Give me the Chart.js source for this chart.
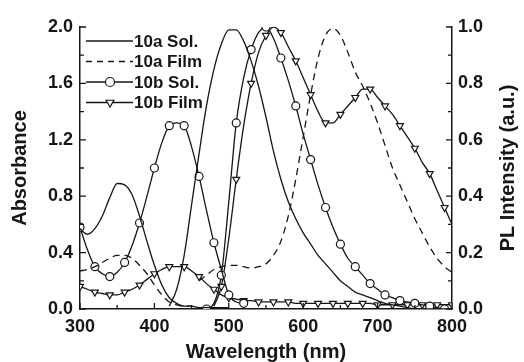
<!DOCTYPE html>
<html>
<head>
<meta charset="utf-8">
<script src="https://cdn.jsdelivr.net/npm/chart.js@4"></script>
<style>
    html, body { margin: 0; padding: 0; background: #fff; }
    #wrap { width: 524px; height: 362px; }
</style>
</head>
<body>
<div id="wrap"><canvas id="spectraChart" width="524" height="362"></canvas></div>
<script>
// Longitudes de onda (nm), cada 10 nm
var wavelengths = [300, 310, 320, 330, 340, 350, 360, 370, 380, 390,
    400, 410, 420, 430, 440, 450, 460, 470, 480, 490,
    500, 510, 520, 530, 540, 550, 560, 570, 580, 590,
    600, 610, 620, 630, 640, 650, 660, 670, 680, 690,
    700, 710, 720, 730, 740, 750, 760, 770, 780, 790, 800];

// Absorbancia (eje izquierdo)
var abs10aSol = [0.57, 0.53, 0.57, 0.66, 0.79, 0.89, 0.88, 0.81, 0.66, 0.48,
    0.31, 0.17, 0.08, 0.04, 0.02, 0.02, 0.01, 0.01, 0.01, 0.01,
    0.01, null, null, null, null, null, null, null, null, null,
    null, null, null, null, null, null, null, null, null, null,
    null, null, null, null, null, null, null, null, null, null, null];
var abs10aFilm = [0.27, 0.28, 0.30, 0.33, 0.36, 0.38, 0.38, 0.36, 0.31, 0.25,
    0.17, 0.10, 0.05, 0.03, 0.02, 0.02, null, null, null, null,
    null, null, null, null, null, null, null, null, null, null,
    null, null, null, null, null, null, null, null, null, null,
    null, null, null, null, null, null, null, null, null, null, null];
var abs10bSol = [0.58, 0.42, 0.30, 0.25, 0.23, 0.26, 0.33, 0.45, 0.61, 0.80,
    1.00, 1.18, 1.30, 1.32, 1.30, 1.15, 0.94, 0.70, 0.47, 0.28,
    0.10, 0.05, 0.04, null, null, null, null, null, null, null,
    null, null, null, null, null, null, null, null, null, null,
    null, null, null, null, null, null, null, null, null, null, null];
var abs10bFilm = [0.16, 0.14, 0.12, 0.11, 0.10, 0.10, 0.12, 0.14, 0.17, 0.21,
    0.25, 0.28, 0.30, 0.30, 0.30, 0.27, 0.23, 0.18, 0.14, 0.10,
    0.08, 0.07, 0.06, 0.06, 0.05, 0.05, 0.05, 0.05, 0.05, 0.04,
    0.04, 0.04, 0.04, 0.04, 0.04, 0.04, 0.04, 0.04, 0.04, 0.04,
    0.03, 0.03, 0.03, 0.03, 0.03, 0.03, 0.03, 0.03, 0.03, 0.03, 0.03];

// Fotoluminiscencia normalizada (eje derecho)
var pl10aSol = [null, null, null, null, null, null, null, null, null, null,
    null, null, 0.01, 0.07, 0.19, 0.37, 0.55, 0.72, 0.85, 0.94,
    0.99, 0.99, 0.95, 0.88, 0.79, 0.68, 0.56, 0.46, 0.38, 0.32,
    0.27, 0.23, 0.19, 0.16, 0.13, 0.10, 0.08, 0.06, 0.05, 0.04,
    0.03, 0.02, 0.015, 0.01, 0.005, 0, 0, 0, 0, 0, 0];
var pl10aFilm = [null, null, null, null, null, null, null, null, null, null,
    null, null, null, null, null, null, 0.10, 0.12, 0.14, 0.15,
    0.155, 0.155, 0.15, 0.145, 0.15, 0.16, 0.19, 0.24, 0.33, 0.46,
    0.61, 0.76, 0.89, 0.97, 0.995, 0.97, 0.91, 0.84, 0.79, 0.73,
    0.66, 0.58, 0.50, 0.44, 0.38, 0.32, 0.27, 0.22, 0.18, 0.15, 0.13];
var pl10bSol = [null, null, null, null, null, null, null, null, null, null,
    null, null, null, null, null, null, null, 0, 0.02, 0.12,
    0.38, 0.66, 0.82, 0.92, 0.98, 1.00, 0.96, 0.89, 0.81, 0.72,
    0.62, 0.53, 0.44, 0.36, 0.29, 0.23, 0.18, 0.15, 0.12, 0.09,
    0.07, 0.05, 0.04, 0.03, 0.025, 0.02, 0.015, 0.01, 0.005, 0, 0];
var pl10bFilm = [null, null, null, null, null, null, null, null, null, null,
    null, null, null, null, null, null, null, null, 0.01, 0.08,
    0.25, 0.46, 0.65, 0.80, 0.91, 0.97, 1.00, 0.98, 0.93, 0.88,
    0.82, 0.76, 0.70, 0.66, 0.66, 0.69, 0.72, 0.75, 0.78, 0.78,
    0.75, 0.72, 0.69, 0.65, 0.61, 0.57, 0.52, 0.48, 0.42, 0.36, 0.30];

var legendLabels = ['10a Sol.', '10a Film', '10b Sol.', '10b Film'];
var leftTicks = [0, 0.4, 0.8, 1.2, 1.6, 2.0];
var rightTicks = [0, 0.2, 0.4, 0.6, 0.8, 1.0];
var xTicks = [300, 400, 500, 600, 700, 800];
var rightTitle = 'PL Intensity (a.u.)';

var INK = '#161616';
var FONT = "'Liberation Sans', Arial, sans-serif";

document.addEventListener('DOMContentLoaded', function() {
    initSpectraChart();
});

// Convierte un array de valores en puntos {x, y}
function toPoints(values) {
    var pts = [];
    for (var i = 0; i < wavelengths.length; i++) {
        if (values[i] !== null) pts.push({ x: wavelengths[i], y: values[i] });
    }
    return pts;
}

// Marcadores cada 20 nm (absorcion en 300, 320..., PL en 310, 330...)
function markerEvery(offset) {
    return function(ctx) {
        var p = ctx.raw;
        return (p && p.x % 20 === offset) ? 4 : 0;
    };
}

function makeSet(label, values, axis, style) {
    return {
        label: label,
        data: toPoints(values),
        yAxisID: axis,
        borderColor: INK,
        backgroundColor: '#fff',
        borderWidth: 1.3,
        borderDash: style.dash || [],
        cubicInterpolationMode: 'monotone',
        pointStyle: style.point || 'circle',
        rotation: style.rotation || 0,
        pointRadius: style.point ? markerEvery(axis === 'y' ? 0 : 10) : 0,
        pointBorderColor: INK,
        pointBackgroundColor: '#fff',
        pointBorderWidth: 1.2,
        pointHoverRadius: 0
    };
}

// Leyenda dibujada dentro del area del grafico
var insideLegend = {
    id: 'insideLegend',
    afterDatasetsDraw: function(chart) {
        var c = chart.ctx;
        var styles = [{}, { dash: [6, 5] }, { point: 'circle' }, { point: 'triangle', rotation: 180 }];
        c.save();
        for (var i = 0; i < legendLabels.length; i++) {
            var y = 41 + i * 20.5;
            c.strokeStyle = INK;
            c.lineWidth = 1.4;
            c.setLineDash(styles[i].dash || []);
            c.beginPath();
            c.moveTo(86, y);
            c.lineTo(133, y);
            c.stroke();
            c.setLineDash([]);
            if (styles[i].point) {
                c.fillStyle = '#fff';
                c.strokeStyle = INK;
                c.lineWidth = 1.2;
                Chart.helpers.drawPoint(c, {
                    pointStyle: styles[i].point,
                    rotation: styles[i].rotation || 0,
                    radius: 4.5,
                    borderWidth: 1.2
                }, 110, y);
            }
            c.fillStyle = INK;
            c.font = 'bold 17px ' + FONT;
            c.textBaseline = 'middle';
            c.textAlign = 'left';
            c.fillText(legendLabels[i], 134, y + 1);
        }
        c.restore();
    }
};

// Marcas de escala hacia dentro y titulo del eje derecho
var innerTicks = {
    id: 'innerTicks',
    afterDraw: function(chart) {
        var c = chart.ctx;
        var a = chart.chartArea;
        var s = chart.scales;
        c.save();
        c.strokeStyle = INK;
        c.lineWidth = 1.3;
        c.beginPath();
        for (var v = 0; v <= 10; v++) {
            var yl = s.y.getPixelForValue(v * 0.2);
            var lenL = (v % 2 === 0) ? 6 : 4;
            c.moveTo(a.left, yl);
            c.lineTo(a.left + lenL, yl);
            var yr = s.y1.getPixelForValue(v * 0.1);
            var lenR = (v % 2 === 0) ? 6 : 4;
            c.moveTo(a.right, yr);
            c.lineTo(a.right - lenR, yr);
        }
        for (var w = 300; w <= 800; w += 50) {
            var xp = s.x.getPixelForValue(w);
            c.moveTo(xp, a.bottom);
            c.lineTo(xp, a.bottom - (w % 100 === 0 ? 6 : 4));
        }
        c.stroke();

        // el titulo derecho se lee de abajo hacia arriba
        c.translate(508, (a.top + a.bottom) / 2);
        c.rotate(-Math.PI / 2);
        c.fillStyle = INK;
        c.font = 'bold 20px ' + FONT;
        c.textAlign = 'center';
        c.textBaseline = 'middle';
        c.fillText(rightTitle, 0, 0);
        c.restore();
    }
};

function initSpectraChart() {
    var ctx = document.getElementById('spectraChart');
    if (!ctx) return;

    var datasets = [
        makeSet('10a Sol.', abs10aSol, 'y', {}),
        makeSet('10a Sol. PL', pl10aSol, 'y1', {}),
        makeSet('10a Film', abs10aFilm, 'y', { dash: [7, 5] }),
        makeSet('10a Film PL', pl10aFilm, 'y1', { dash: [7, 5] }),
        makeSet('10b Sol.', abs10bSol, 'y', { point: 'circle' }),
        makeSet('10b Sol. PL', pl10bSol, 'y1', { point: 'circle' }),
        makeSet('10b Film', abs10bFilm, 'y', { point: 'triangle', rotation: 180 }),
        makeSet('10b Film PL', pl10bFilm, 'y1', { point: 'triangle', rotation: 180 })
    ];

    var tickFont = { family: FONT, size: 18, weight: 'bold' };
    var titleFont = { family: FONT, size: 20, weight: 'bold', lineHeight: 1 };

    new Chart(ctx, {
        type: 'line',
        data: { datasets: datasets },
        options: {
            responsive: false,
            animation: false,
            events: [],
            layout: { padding: { top: 27, left: 0, right: 0, bottom: 0 } },
            plugins: {
                legend: { display: false },
                tooltip: { enabled: false }
            },
            scales: {
                x: {
                    type: 'linear',
                    min: 300,
                    max: 800,
                    afterFit: function(scale) { scale.height = 53; },
                    afterBuildTicks: function(scale) {
                        scale.ticks = xTicks.map(function(v) { return { value: v }; });
                    },
                    grid: { display: false, drawTicks: false },
                    border: { display: true, color: INK, width: 1.5 },
                    ticks: { color: INK, font: tickFont, padding: 7, maxRotation: 0 },
                    title: { display: true, text: 'Wavelength (nm)', color: INK, font: titleFont, padding: { bottom: 0, top: 0 } }
                },
                y: {
                    position: 'left',
                    min: 0,
                    max: 2,
                    afterFit: function(scale) { scale.width = 80; },
                    afterBuildTicks: function(scale) {
                        scale.ticks = leftTicks.map(function(v) { return { value: v }; });
                    },
                    grid: { display: false, drawTicks: false },
                    border: { display: true, color: INK, width: 1.5 },
                    ticks: {
                        color: INK, font: tickFont, padding: 7,
                        callback: function(v) { return Number(v).toFixed(1); }
                    },
                    title: { display: true, text: 'Absorbance', color: INK, font: titleFont, padding: { top: 10 } }
                },
                y1: {
                    position: 'right',
                    min: 0,
                    max: 1,
                    afterFit: function(scale) { scale.width = 72; },
                    afterBuildTicks: function(scale) {
                        scale.ticks = rightTicks.map(function(v) { return { value: v }; });
                    },
                    grid: { display: false, drawTicks: false },
                    border: { display: true, color: INK, width: 1.5 },
                    ticks: {
                        color: INK, font: tickFont, padding: 6,
                        callback: function(v) { return Number(v).toFixed(1); }
                    },
                    title: { display: false }
                }
            }
        },
        plugins: [insideLegend, innerTicks]
    });
}
</script>
</body>
</html>
